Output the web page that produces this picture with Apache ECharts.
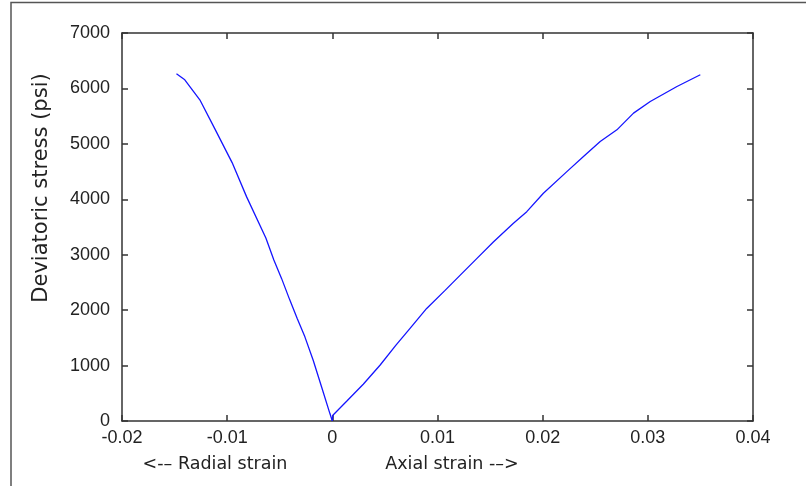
<!DOCTYPE html>
<html>
<head>
<meta charset="utf-8">
<script src="https://cdn.jsdelivr.net/npm/echarts@6/dist/echarts.min.js"></script>
<style>
html,body{margin:0;padding:0;background:#fff;}
#chart{width:806px;height:486px;}
</style>
</head>
<body>
<div id="chart"></div>
<script>
// Radial strain branch (negative strain), from origin upward
const radialStrain = [0, -0.00023, -0.00102, -0.00182, -0.00261, -0.00334, -0.00404, -0.00483, -0.00556, -0.00632, -0.00816, -0.00953, -0.01117, -0.01260, -0.01403, -0.01482];
const radialStress = [0, 134, 614, 1097, 1518, 1850, 2181, 2573, 2903, 3300, 4048, 4662, 5271, 5795, 6155, 6265];
// Axial strain branch
const axialStrain = [0, 0.00005, 0.00136, 0.00294, 0.00453, 0.00605, 0.00739, 0.00897, 0.01072, 0.01214, 0.01373, 0.01531, 0.01722, 0.01849, 0.02007, 0.02230, 0.02388, 0.02547, 0.02706, 0.02864, 0.03023, 0.03277, 0.03499];
const axialStress = [0, 103, 356, 663, 1006, 1368, 1670, 2031, 2356, 2627, 2929, 3229, 3567, 3777, 4109, 4499, 4770, 5041, 5253, 5555, 5764, 6035, 6247];

const xTicks = [-0.02, -0.01, 0, 0.01, 0.02, 0.03, 0.04];
const yTicks = [0, 1000, 2000, 3000, 4000, 5000, 6000, 7000];
const yAxisTitle = 'Deviatoric stress (psi)';
const xTitleLeft = '<-– Radial strain';
const xTitleRight = 'Axial strain -–>';

const chart = echarts.init(document.getElementById('chart'), null, {renderer: 'canvas'});
const axisColor = '#333';
const tickFont = {fontFamily: 'Liberation Sans', fontSize: 18, color: '#222'};

function pairs(xs, ys){ return xs.map((x,i)=>[x, ys[i]]); }

const option = {
  animation: false,
  backgroundColor: '#fff',
  grid: {left: 122, right: 53, top: 33, bottom: 65, containLabel: false},
  xAxis: [{
    type: 'value', min: xTicks[0], max: xTicks[xTicks.length-1], interval: 0.01,
    axisLine: {show: true, onZero: false, lineStyle: {color: axisColor, width: 1.5}},
    axisTick: {show: true, inside: true, length: 6, lineStyle: {color: axisColor, width: 1.5}},
    splitLine: {show: false},
    axisLabel: {margin: 8, ...tickFont, formatter: v => String(+v.toFixed(2))}
  }, {
    type: 'value', position: 'top', min: xTicks[0], max: xTicks[xTicks.length-1], interval: 0.01,
    axisLine: {show: true, onZero: false, lineStyle: {color: axisColor, width: 1.5}},
    axisTick: {show: true, inside: true, length: 6, lineStyle: {color: axisColor, width: 1.5}},
    splitLine: {show: false}, axisLabel: {show: false}
  }],
  yAxis: [{
    type: 'value', min: yTicks[0], max: yTicks[yTicks.length-1], interval: 1000,
    axisLine: {show: true, onZero: false, lineStyle: {color: axisColor, width: 1.5}},
    axisTick: {show: true, inside: true, length: 6, lineStyle: {color: axisColor, width: 1.5}},
    splitLine: {show: false},
    axisLabel: {margin: 12, ...tickFont, formatter: v => String(v)}
  }, {
    type: 'value', position: 'right', min: yTicks[0], max: yTicks[yTicks.length-1], interval: 1000,
    axisLine: {show: true, onZero: false, lineStyle: {color: axisColor, width: 1.5}},
    axisTick: {show: true, inside: true, length: 6, lineStyle: {color: axisColor, width: 1.5}},
    splitLine: {show: false}, axisLabel: {show: false}
  }],
  series: [{
    name: 'Radial', type: 'line', data: pairs(radialStrain, radialStress),
    showSymbol: false, lineStyle: {color: '#1515ff', width: 1.3}, smooth: false
  }, {
    name: 'Axial', type: 'line', data: pairs(axialStrain, axialStress),
    showSymbol: false, lineStyle: {color: '#1515ff', width: 1.3}, smooth: false
  }],
  graphic: [
    {type: 'polyline', shape: {points: [[11, 486], [11, 2.5], [806, 2.5]]}, style: {stroke: '#555', lineWidth: 1.5, fill: null}},
    {type: 'text', x: 42, y: 188, rotation: Math.PI/2, style: {text: yAxisTitle, font: '21px "DejaVu Sans"', fill: '#222', align: 'center', verticalAlign: 'middle'}},
    {type: 'text', x: 215, y: 464, style: {text: xTitleLeft, font: '17.5px "DejaVu Sans"', fill: '#222', align: 'center', verticalAlign: 'middle'}},
    {type: 'text', x: 452, y: 464, style: {text: xTitleRight, font: '17.5px "DejaVu Sans"', fill: '#222', align: 'center', verticalAlign: 'middle'}}
  ]
};
chart.setOption(option);
</script>
</body>
</html>
